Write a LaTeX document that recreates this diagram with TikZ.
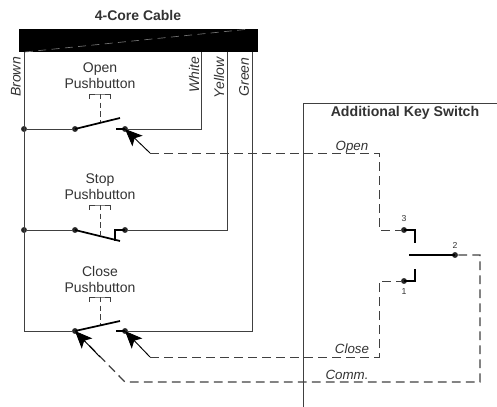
\documentclass[tikz,border=0pt]{standalone}
\usepackage{fontspec}
\setmainfont{Liberation Sans}
\usepackage{xcolor}
\usetikzlibrary{arrows.meta}
\definecolor{wirecol}{HTML}{404040}

\begin{document}
\begin{tikzpicture}[
    x=0.75pt,
    y=-0.75pt,
    line width=0.7pt,
    draw=wirecol,
    text=black!80,
    font=\fontsize{10.5pt}{12pt}\selectfont,
    >={Stealth[length=13pt,width=11pt,inset=3pt]}
]

\useasboundingbox (0,0) rectangle (497,407);

\tikzstyle{dot}=[
    circle,
    fill=black!85,
    inner sep=0pt,
    minimum size=4.4pt
]
\tikzstyle{blade}=[
    line width=1.3pt,
    draw=black
]
\tikzstyle{signal}=[
    dash pattern=on 6.5pt off 4pt
]
\tikzstyle{wirename}=[
    rotate=90,
    font=\fontsize{10.5pt}{12pt}\selectfont\itshape
]
\tikzstyle{linename}=[
    font=\fontsize{10pt}{12pt}\selectfont\itshape
]
\tikzstyle{btnname}=[
    align=center,
    inner sep=0pt,
    font=\fontsize{10.5pt}{12pt}\selectfont
]
\tikzstyle{pin}=[
    inner sep=0pt,
    font=\fontsize{6.5pt}{7pt}\selectfont
]

% cable
\node[fill=black, draw=black, minimum width=178.5pt, minimum height=17pt, inner sep=0pt] (cable) at (138,40.5) {};
\node[font=\fontsize{10.5pt}{12pt}\selectfont\bfseries] (title) at (138,15) {4-Core Cable};
\coordinate (slantA) at (25,52);
\coordinate (slantB) at (250,29);
\draw[draw=black!55, dash pattern=on 6pt off 4pt, line width=0.5pt] (slantA) -- (slantB);

% cable ends
\coordinate (brown) at (24,52);
\coordinate (white) at (201,52);
\coordinate (yellow) at (227,52);
\coordinate (green) at (252,52);

\node[wirename] (brownname) at (16,77) {Brown};
\node[wirename] (whitename) at (194,75) {White};
\node[wirename] (yellowname) at (219,78) {Yellow};
\node[wirename] (greenname) at (244,77) {Green};

% contacts
\node[dot] (tap) at (24,129) {};
\node[dot] (openL) at (75,129) {};
\node[dot] (openR) at (125,129) {};
\node[dot] (stoptap) at (24,230) {};
\node[dot] (stopL) at (75,230) {};
\node[dot] (stopR) at (125,230) {};
\node[dot] (closeL) at (75,331) {};
\node[dot] (closeR) at (125,331) {};

\coordinate (bottom) at (24,331);

% wires
\draw (brown) -- (bottom) -- (closeL);
\draw (tap) -- (openL);
\draw (stoptap) -- (stopL);
\draw (openR) -| (white);
\draw (stopR) -| (yellow);
\draw (closeR) -| (green);

% switches
\foreach \name/\ytop/\ybar/\ylab/\txt in {open/94/123/76/Open, stop/205/235/187/Stop, close/297/325/279/Close} {
    \node[btnname] (\name label) at (100,\ylab) {\txt\\Pushbutton};
    \coordinate (\name barL) at (89.5,\ytop+4.5);
    \coordinate (\name barR) at (110,\ytop+4.5);
    \coordinate (\name top) at (100,\ytop);
    \coordinate (\name rod) at (100,\ybar);
    \draw (\name barL) |- (\name top) -| (\name barR);
    \draw[dash pattern=on 4pt off 2.5pt] (\name top) -- (\name rod);
}

\coordinate (openblade) at (120,118);
\coordinate (openstub) at (116,129);
\coordinate (stopblade) at (120,241);
\coordinate (stopcorner) at (115,230);
\coordinate (stopstub) at (115,241);
\coordinate (closeblade) at (120,321);
\coordinate (closestub) at (116,331);

\draw[blade] (openL.center) -- (openblade);
\draw[blade] (openstub) -- (openR.center);
\draw[blade] (stopL.center) -- (stopblade);
\draw[blade] (stopR.center) -- (stopcorner) -- (stopstub);
\draw[blade] (closeL.center) -- (closeblade);
\draw[blade] (closestub) -- (closeR.center);

% key switch
\coordinate (boxbottom) at (303,407);
\coordinate (boxcorner) at (303,103);
\coordinate (boxright) at (497,103);
\draw (boxbottom) -- (boxcorner) -- (boxright);
\node[font=\fontsize{10.6pt}{12pt}\selectfont\bfseries] (keyname) at (405,113) {Additional Key Switch};

\node[dot] (pinthree) at (404,230) {};
\node[dot] (pintwo) at (455,255) {};
\node[dot] (pinone) at (404,281) {};
\node[pin] (three) at (404,219) {3};
\node[pin] (two) at (455,245) {2};
\node[pin] (one) at (404,292) {1};

\coordinate (threecorner) at (415,230);
\coordinate (threestub) at (415,243);
\coordinate (bladeend) at (409,255);
\coordinate (onecorner) at (415,281);
\coordinate (onestub) at (415,269);

\draw[blade] (pinthree.center) -- (threecorner) -- (threestub);
\draw[blade] (bladeend) -- (pintwo.center);
\draw[blade] (pinone.center) -- (onecorner) -- (onestub);

% dashed lines
\coordinate (openbend) at (150,153);
\coordinate (opencorner) at (379,153);
\coordinate (threedrop) at (379,230);
\coordinate (closebend) at (150,357);
\coordinate (closecorner) at (379,357);
\coordinate (onedrop) at (379,281);
\coordinate (commbend) at (125,382);
\coordinate (commcorner) at (480,382);
\coordinate (twodrop) at (480,255);

\draw[signal] (openbend) -- (opencorner) -- (threedrop) -- (pinthree);
\draw[signal] (closebend) -- (closecorner) -- (onedrop) -- (pinone);
\draw[signal, line width=0.95pt] (pintwo) -- (twodrop) -- (commcorner) -- (commbend) -- (closeL.center);

% arrow heads
\draw[->, draw=black] (openbend) -- (openR.center);
\draw[->, draw=black] (closebend) -- (closeR.center);
\coordinate (commtip) at (100,357);
\draw[->, draw=black] (commtip) -- (closeL.center);

\node[linename] (openname) at (352,147) {Open};
\node[linename] (closename) at (352,349) {Close};
\node[linename] (commname) at (347,375) {Comm.};

\end{tikzpicture}
\end{document}
